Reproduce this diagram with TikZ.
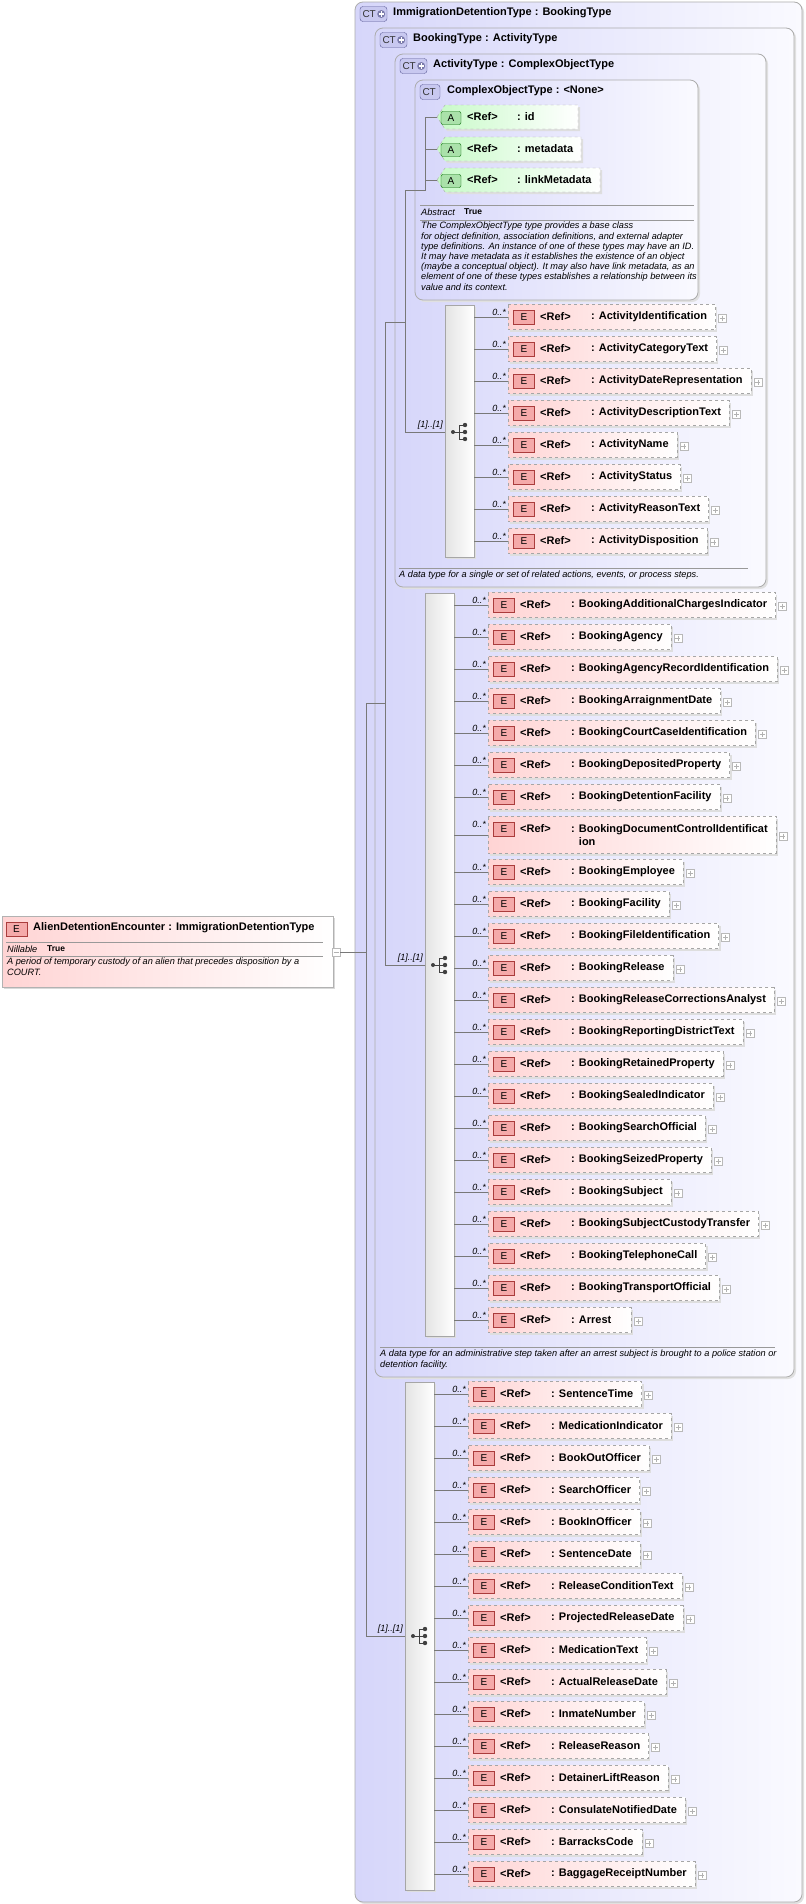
\documentclass[tikz,border=0pt]{standalone}
\usepackage{fontspec}
\setmainfont{Liberation Sans}
\usetikzlibrary{calc}
\pgfdeclarelayer{bg}\pgfdeclarelayer{mid}\pgfsetlayers{bg,mid,main}
\definecolor{epink}{RGB}{255,212,212}
\definecolor{eicon}{RGB}{245,170,170}
\definecolor{eborder}{RGB}{170,60,60}
\definecolor{lav}{RGB}{214,214,250}
\definecolor{lavr}{RGB}{250,250,255}
\definecolor{ctic}{RGB}{200,200,240}
\definecolor{ctb}{RGB}{90,90,150}
\definecolor{agreen}{RGB}{200,250,200}
\definecolor{aicon}{RGB}{170,225,170}
\definecolor{lin}{RGB}{120,120,120}
\newcommand\fbd{\fontsize{11}{13}\selectfont\bfseries}
\newcommand\fit{\fontsize{9.2}{10.2}\selectfont\itshape}
\tikzset{
 etxt/.style={inner sep=0pt,font=\fbd,align=left},
 reft/.style={inner sep=0pt,font=\fbd},
 eic/.style={draw=eborder,fill=eicon,minimum width=21pt,minimum height=14pt,inner sep=0pt,font=\fontsize{10}{10}\selectfont},
 ebox/.style={draw=gray!70,dashed,left color=epink,right color=white},
 shd/.style={fill=black!13},
 conn/.style={draw=lin,line width=0.6pt},
 mult/.style={inner sep=0pt,font=\fontsize{9}{9}\selectfont\itshape},
 ctbox/.style={draw=gray!65,line width=0.8pt,rounded corners=8pt,left color=lav,right color=lavr},
 bar/.style={draw=gray!70,left color=gray!22,right color=white},
 note/.style={inner sep=0pt,font=\fit,align=left,anchor=north west},
 plusb/.style={draw=gray!55,fill=white,minimum size=8pt,inner sep=0pt},
}
\newcommand\barx{474}
% #1 half height, #2 id, #3 x0, #4 y, #5 label
\newcommand\elm[5][12.5]{%
 \node[etxt,anchor=west] (#2t) at (#3+83,#4) {#5};
 \node[reft,anchor=west] (#2f) at (#3+32,#4-#1+12.5) {<Ref>};
 \node[eic] (#2e) at (#3+16,#4-#1+13) {E};
 \coordinate (#2c) at (\barx,#4);
 \coordinate (#2l) at (#3,#4);
 \path let \p1=(#2t.east), \n1={max(\x1+8,#3+143)} in coordinate (#2r) at (\n1,#4);
 \begin{pgfonlayer}{mid}
 \fill[shd] (#3+2,#4-#1+2) rectangle ($(#2r)+(2,#1+2)$);
 \path[ebox] (#3,#4-#1) rectangle ($(#2r)+(0,#1)$);
 \end{pgfonlayer}
 \node[plusb] (#2p) at ($(#2r)+(7,1)$) {};
 \draw[gray!60,line width=0.4pt] ($(#2p.center)+(-2.5,0)$) -- ($(#2p.center)+(2.5,0)$) ($(#2p.center)+(0,-2.5)$) -- ($(#2p.center)+(0,2.5)$);
 \draw[conn] (#2c) -- (#2l);
 \node[mult,anchor=south east] at (#3-2,#4-#1+11.5) {0..*};
}
\newcommand\ctic[4]{% id, x, y, width
 \node[draw=ctb,fill=ctic,rounded corners=3pt,minimum width=#4,minimum height=15pt,inner sep=0pt] (#1) at (#2,#3) {};
 \node[inner sep=0pt,font=\fontsize{10}{10}\selectfont,text=black!80,anchor=west] at ($(#1.west)+(2.5,0.5)$) {CT};
}
\newcommand\ctplus[1]{%
 \fill[ctb!80] ($(#1.east)+(-6,0)$) circle (4pt);
 \draw[white,line width=1.2pt] ($(#1.east)+(-8.6,0)$) -- ($(#1.east)+(-3.4,0)$) ($(#1.east)+(-6,-2.6)$) -- ($(#1.east)+(-6,2.6)$);
}
\newcommand\seqicon[3]{% id, cx, cy
 \coordinate (#1) at (#2,#3);
 \fill[black!75] (#2-7,#3) circle (2pt);
 \draw[black!75,line width=0.9pt] (#2-7,#3) -- (#2-1,#3) (#2-1,#3-7) -- (#2-1,#3+7)
   (#2-1,#3-7) -- (#2+5,#3-7) (#2-1,#3) -- (#2+5,#3) (#2-1,#3+7) -- (#2+5,#3+7);
 \fill[black!75] (#2+5,#3-7) circle (2.2pt) (#2+5,#3) circle (2.2pt) (#2+5,#3+7) circle (2.2pt);
}
\begin{document}
\begin{tikzpicture}[x=1pt,y=-1pt]
\useasboundingbox (0,0) rectangle (806,1904);
% containers
\begin{pgfonlayer}{bg}
\fill[white] (0,0) rectangle (806,1904);
\fill[black!12,rounded corners=8pt] (357,4) rectangle (804,1904);
\path[ctbox] (355,2) rectangle (802,1902);
\fill[black!12,rounded corners=8pt] (377,30) rectangle (796,1379);
\path[ctbox] (375,28) rectangle (794,1377);
\fill[black!12,rounded corners=8pt] (397,56) rectangle (768,589);
\path[ctbox] (395,54) rectangle (766,587);
\fill[black!12,rounded corners=8pt] (417,82) rectangle (700,302);
\path[ctbox] (415,80) rectangle (698,300);
\end{pgfonlayer}
\ctic{ic1}{373.5}{14}{27pt}\ctplus{ic1}
\node[inner sep=0pt,font=\fbd,anchor=west] (t1) at (393,13) {ImmigrationDetentionType : BookingType};
\ctic{ic2}{393.5}{40}{27pt}\ctplus{ic2}
\node[inner sep=0pt,font=\fbd,anchor=west] (t2) at (413,39) {BookingType : ActivityType};
\ctic{ic3}{413.5}{66}{27pt}\ctplus{ic3}
\node[inner sep=0pt,font=\fbd,anchor=west] (t3) at (433,65) {ActivityType : ComplexObjectType};
\ctic{ic4}{430}{92}{20pt}
\node[inner sep=0pt,font=\fbd,anchor=west] (t4) at (447,91) {ComplexObjectType : <None>};
% attributes
\foreach \id/\yy/\rr/\lab in {aid/117/578/id, ameta/149/581/metadata, alink/180/600/linkMetadata}{
  \fill[black!13] (439,\yy+2) -- (447,\yy-10) -- (\rr+2,\yy-10) -- (\rr+2,\yy+14) -- (447,\yy+14) -- cycle;
  \path[draw=gray!70,dashed,left color=agreen,right color=white] (437,\yy) -- (445,\yy-12) -- (\rr,\yy-12) -- (\rr,\yy+12) -- (445,\yy+12) -- cycle;
  \node[draw=green!40!black,fill=aicon,rounded corners=2pt,minimum width=20pt,minimum height=13pt,inner sep=0pt,font=\fontsize{10}{10}\selectfont] (\id) at (451,\yy+1) {A};
  \node[reft,anchor=west] at (467,\yy) {<Ref>};
  \node[reft,anchor=west] at (517,\yy) {: \lab};
  \draw[conn] (425,\yy) -- (437,\yy);
}
\draw[conn] (425,117) -- (425,190) -- (405,190) -- (405,432);
% abstract
\draw[gray!80] (420,205) -- (694,205) (420,220) -- (694,220);
\node[inner sep=0pt,font=\fontsize{9.2}{10}\selectfont\itshape,anchor=west] at (421,212) {Abstract};
\node[inner sep=0pt,font=\fontsize{8.5}{10}\selectfont\bfseries,anchor=west] at (464,211.5) {True};
\node[note] at (421,222) {The ComplexObjectType type provides a base class\\for object definition, association definitions, and external adapter\\type definitions. An instance of one of these types may have an ID.\\It may have metadata as it establishes the existence of an object\\(maybe a conceptual object). It may also have link metadata, as an\\element of one of these types establishes a relationship between its\\value and its context.};
% activity sequence
\begin{pgfonlayer}{mid}
\fill[black!13] (447,307) rectangle (476,559);
\fill[black!13] (427,595) rectangle (456,1338);
\fill[black!13] (407,1384) rectangle (436,1892);
\end{pgfonlayer}
\node[bar,minimum width=29pt,minimum height=252pt,inner sep=0pt] (sb1) at (459.5,431) {};
\seqicon{sq1}{460}{432}
\draw[conn] (385,322) -- (405,322);
\draw[conn] (405,432) -- (sb1.west |- 0,432);
\node[mult,anchor=south east] at (443,430) {[1]..[1]};
\renewcommand\barx{474}
\elm{a1}{508}{317}{: ActivityIdentification}
\elm{a2}{508}{349}{: ActivityCategoryText}
\elm{a3}{508}{381}{: ActivityDateRepresentation}
\elm{a4}{508}{413}{: ActivityDescriptionText}
\elm{a5}{508}{445}{: ActivityName}
\elm{a6}{508}{477}{: ActivityStatus}
\elm{a7}{508}{509}{: ActivityReasonText}
\elm{a8}{508}{541}{: ActivityDisposition}
\draw[gray!80] (399,568) -- (748,568);
\node[note] at (399,571) {A data type for a single or set of related actions, events, or process steps.};
% booking sequence
\node[bar,minimum width=29pt,minimum height=743pt,inner sep=0pt] (sb2) at (439.5,964.5) {};
\seqicon{sq2}{440}{965}
\draw[conn] (385,322) -- (385,965) -- (sb2.west |- 0,965);
\node[mult,anchor=south east] at (423,963) {[1]..[1]};
\renewcommand\barx{454}
\elm{b1}{488}{605}{: BookingAdditionalChargesIndicator}
\elm{b2}{488}{637}{: BookingAgency}
\elm{b3}{488}{669}{: BookingAgencyRecordIdentification}
\elm{b4}{488}{701}{: BookingArraignmentDate}
\elm{b5}{488}{733}{: BookingCourtCaseIdentification}
\elm{b6}{488}{765}{: BookingDepositedProperty}
\elm{b7}{488}{797}{: BookingDetentionFacility}
\elm[18.5]{b8}{488}{835}{: BookingDocumentControlIdentificat\\\phantom{: }ion}
\elm{b9}{488}{872}{: BookingEmployee}
\elm{b10}{488}{904}{: BookingFacility}
\elm{b11}{488}{936}{: BookingFileIdentification}
\elm{b12}{488}{968}{: BookingRelease}
\elm{b13}{488}{1000}{: BookingReleaseCorrectionsAnalyst}
\elm{b14}{488}{1032}{: BookingReportingDistrictText}
\elm{b15}{488}{1064}{: BookingRetainedProperty}
\elm{b16}{488}{1096}{: BookingSealedIndicator}
\elm{b17}{488}{1128}{: BookingSearchOfficial}
\elm{b18}{488}{1160}{: BookingSeizedProperty}
\elm{b19}{488}{1192}{: BookingSubject}
\elm{b20}{488}{1224}{: BookingSubjectCustodyTransfer}
\elm{b21}{488}{1256}{: BookingTelephoneCall}
\elm{b22}{488}{1288}{: BookingTransportOfficial}
\elm{b23}{488}{1320}{: Arrest}
\draw[gray!80] (380,1347) -- (775,1347);
\node[note] at (380,1350) {A data type for an administrative step taken after an arrest subject is brought to a police station or\\detention facility.};
% immigration sequence
\node[bar,minimum width=29pt,minimum height=508pt,inner sep=0pt] (sb3) at (419.5,1636) {};
\seqicon{sq3}{420}{1636}
\draw[conn] (385,703) -- (366,703) -- (366,1636) -- (sb3.west |- 0,1636);
\node[mult,anchor=south east] at (403,1634) {[1]..[1]};
\renewcommand\barx{434}
\elm{c1}{468}{1394}{: SentenceTime}
\elm{c2}{468}{1426}{: MedicationIndicator}
\elm{c3}{468}{1458}{: BookOutOfficer}
\elm{c4}{468}{1490}{: SearchOfficer}
\elm{c5}{468}{1522}{: BookInOfficer}
\elm{c6}{468}{1554}{: SentenceDate}
\elm{c7}{468}{1586}{: ReleaseConditionText}
\elm{c8}{468}{1618}{: ProjectedReleaseDate}
\elm{c9}{468}{1650}{: MedicationText}
\elm{c10}{468}{1682}{: ActualReleaseDate}
\elm{c11}{468}{1714}{: InmateNumber}
\elm{c12}{468}{1746}{: ReleaseReason}
\elm{c13}{468}{1778}{: DetainerLiftReason}
\elm{c14}{468}{1810}{: ConsulateNotifiedDate}
\elm{c15}{468}{1842}{: BarracksCode}
\elm{c16}{468}{1874}{: BaggageReceiptNumber}
% main element
\fill[black!15] (4,918) rectangle (335,989);
\path[draw=gray!60,left color=epink,right color=white] (2,916) rectangle (333,987);
\node[eic] (me) at (16.5,929) {E};
\node[inner sep=0pt,font=\fbd,anchor=west] (mt) at (33,928) {AlienDetentionEncounter : ImmigrationDetentionType};
\draw[gray!80] (6,942) -- (323,942) (6,956) -- (323,956);
\node[inner sep=0pt,font=\fontsize{9.2}{10}\selectfont\itshape,anchor=west] at (7,949.5) {Nillable};
\node[inner sep=0pt,font=\fontsize{8.5}{10}\selectfont\bfseries,anchor=west] at (47,948.5) {True};
\node[note] at (7,958) {A period of temporary custody of an alien that precedes disposition by a\\COURT.};
\node[plusb] (mm) at (336,952) {};
\draw[gray!60,line width=0.4pt] (333.5,952) -- (338.5,952);
\draw[conn] (mm.east) -- (366,952);
\end{tikzpicture}
\end{document}
